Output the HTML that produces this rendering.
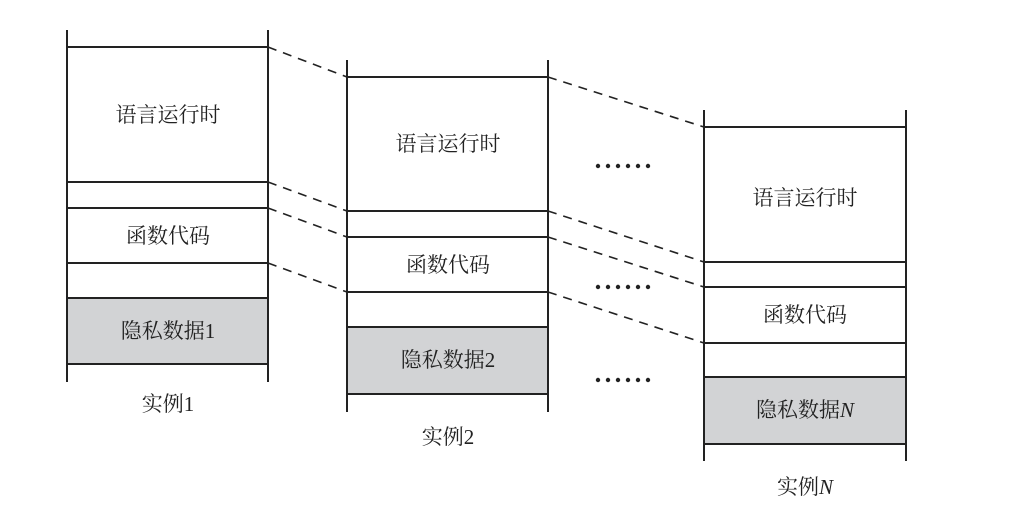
<!DOCTYPE html>
<html><head><meta charset="utf-8"><style>
html,body{margin:0;padding:0;background:#fff;}
svg text{font-family:"Liberation Serif","Noto Serif CJK SC",serif;font-size:21px;fill:#222;}
</style></head><body>
<svg width="1035" height="512" viewBox="0 0 1035 512" xmlns="http://www.w3.org/2000/svg">
<defs>
 <g id="d" fill="#222"><circle cx="598" cy="0" r="2.2"/><circle cx="608" cy="0" r="2.2"/><circle cx="618" cy="0" r="2.2"/><circle cx="628" cy="0" r="2.2"/><circle cx="638" cy="0" r="2.2"/><circle cx="648" cy="0" r="2.2"/></g>
</defs>
<g stroke="#222" stroke-width="2" fill="none">
 <rect x="67" y="298" width="201" height="66" fill="#d2d3d5" stroke="none"/>
 <line x1="67" y1="30" x2="67" y2="382"/><line x1="268" y1="30" x2="268" y2="382"/>
 <line x1="67" y1="47" x2="268" y2="47"/><line x1="67" y1="182" x2="268" y2="182"/>
 <line x1="67" y1="208" x2="268" y2="208"/><line x1="67" y1="263" x2="268" y2="263"/>
 <line x1="67" y1="298" x2="268" y2="298"/><line x1="67" y1="364" x2="268" y2="364"/>
 <rect x="347" y="327" width="201" height="67" fill="#d2d3d5" stroke="none"/>
 <line x1="347" y1="60" x2="347" y2="412"/><line x1="548" y1="60" x2="548" y2="412"/>
 <line x1="347" y1="77" x2="548" y2="77"/><line x1="347" y1="211" x2="548" y2="211"/>
 <line x1="347" y1="237" x2="548" y2="237"/><line x1="347" y1="292" x2="548" y2="292"/>
 <line x1="347" y1="327" x2="548" y2="327"/><line x1="347" y1="394" x2="548" y2="394"/>
 <rect x="704" y="377" width="202" height="67" fill="#d2d3d5" stroke="none"/>
 <line x1="704" y1="110" x2="704" y2="461"/><line x1="906" y1="110" x2="906" y2="461"/>
 <line x1="704" y1="127" x2="906" y2="127"/><line x1="704" y1="262" x2="906" y2="262"/>
 <line x1="704" y1="287" x2="906" y2="287"/><line x1="704" y1="343" x2="906" y2="343"/>
 <line x1="704" y1="377" x2="906" y2="377"/><line x1="704" y1="444" x2="906" y2="444"/>
 <g stroke-dasharray="9,7" stroke-width="1.6">
  <line x1="268" y1="47" x2="347" y2="77"/><line x1="268" y1="182" x2="347" y2="211"/>
  <line x1="268" y1="208" x2="347" y2="237"/><line x1="268" y1="263" x2="347" y2="292"/>
  <line x1="548" y1="77" x2="704" y2="127"/><line x1="548" y1="211" x2="704" y2="262"/>
  <line x1="548" y1="237" x2="704" y2="287"/><line x1="548" y1="292" x2="704" y2="343"/>
 </g>
</g>
<use href="#d" y="166"/><use href="#d" y="287"/><use href="#d" y="380"/>
<g text-anchor="middle">
 <text x="168" y="122">语言运行时</text>
 <text x="168" y="243">函数代码</text>
 <text x="168" y="338">隐私数据1</text>
 <text x="168" y="411">实例1</text>
 <text x="448" y="151">语言运行时</text>
 <text x="448" y="272">函数代码</text>
 <text x="448" y="367">隐私数据2</text>
 <text x="448" y="444">实例2</text>
 <text x="805" y="205">语言运行时</text>
 <text x="805" y="322">函数代码</text>
 <text x="805" y="417">隐私数据<tspan font-style="italic">N</tspan></text>
 <text x="805" y="494">实例<tspan font-style="italic">N</tspan></text>
</g>
</svg>
</body></html>
